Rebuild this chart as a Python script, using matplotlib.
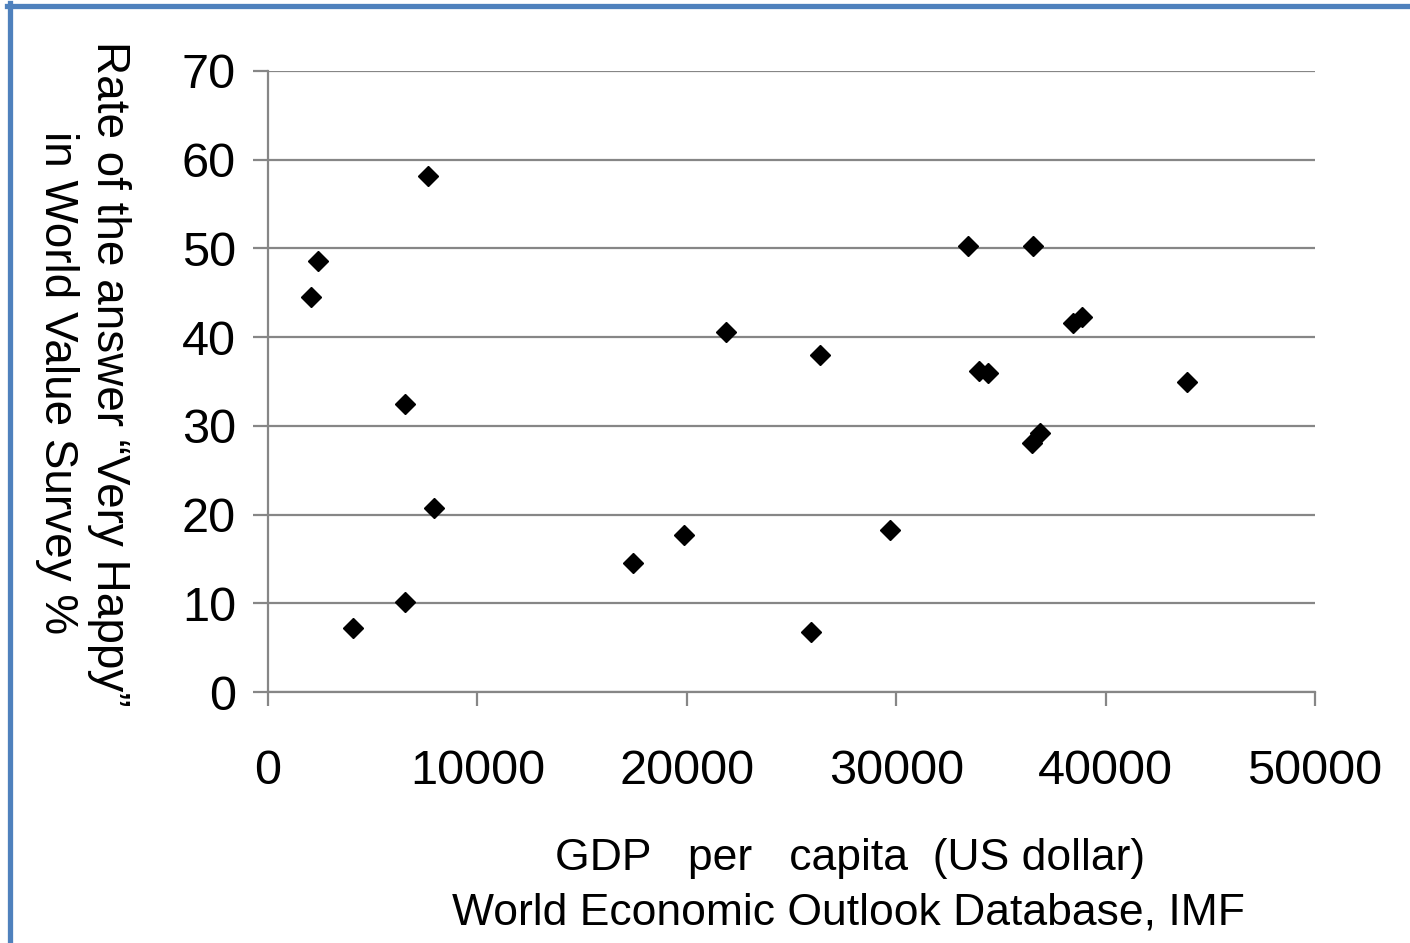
import matplotlib
matplotlib.use("Agg")
import matplotlib.pyplot as plt
from matplotlib.lines import Line2D

plt.rcParams['font.family'] = ['Liberation Sans', 'DejaVu Sans']

# GDP per capita (US dollar) vs. rate of "Very Happy" (%)
gdp = [2050, 2390, 4060, 6540, 6540, 7640, 7930, 17430, 19870, 21870,
       25930, 26360, 29700, 33430, 33950, 34380, 36530, 36490, 36870,
       38420, 38870, 43890]
happy = [44.5, 48.6, 7.2, 32.5, 10.1, 58.2, 20.7, 14.5, 17.7, 40.6,
         6.8, 38.0, 18.3, 50.3, 36.2, 36.0, 50.3, 28.1, 29.2,
         41.6, 42.3, 34.9]

xticks = [0, 10000, 20000, 30000, 40000, 50000]
yticks = [0, 10, 20, 30, 40, 50, 60, 70]

W, H = 1410, 943
fig = plt.figure(figsize=(W / 100, H / 100), dpi=100)
ax = fig.add_axes([268 / W, 1 - 692 / H, (1315 - 268) / W, (692 - 71) / H])

grey = '#868686'
ax.plot(gdp, happy, linestyle='none', marker='D', markersize=10.5,
        color='black', zorder=3, clip_on=False)

ax.set_xlim(0, 50000)
ax.set_ylim(0, 70)
ax.set_xticks(xticks)
ax.set_yticks(yticks)
ax.grid(axis='y', color=grey, linewidth=1.6)
ax.set_axisbelow(True)

for s in ['top', 'right']:
    ax.spines[s].set_visible(False)
for s in ['left', 'bottom']:
    ax.spines[s].set_color(grey)
    ax.spines[s].set_linewidth(1.6)

ax.tick_params(axis='y', length=11, width=1.6, color=grey, pad=12,
               labelsize=35)
ax.tick_params(axis='x', length=10, width=1.6, color=grey, pad=31,
               labelsize=35)

# y-axis title (two rotated lines, read top to bottom)
fig.text(97 / W, 1 - 374 / H, 'Rate of the answer \u201cVery Happy\u201d',
         rotation=-90, rotation_mode='anchor', ha='center', va='baseline',
         fontsize=33)
fig.text(45 / W, 1 - 383 / H, 'in World Value Survey %',
         rotation=-90, rotation_mode='anchor', ha='center', va='baseline',
         fontsize=33)

# x-axis title
fig.text(850 / W, 1 - 870 / H, 'GDP   per   capita  (US dollar)',
         ha='center', va='baseline', fontsize=32)
fig.text(848 / W, 1 - 924 / H, 'World Economic Outlook Database, IMF',
         ha='center', va='baseline', fontsize=32)

# blue frame (top and left edges)
blue = '#4F81BD'
fig.add_artist(Line2D([7 / W, 1], [1 - 5.5 / H, 1 - 5.5 / H],
                      transform=fig.transFigure, color=blue, linewidth=3.8))
fig.add_artist(Line2D([9.5 / W, 9.5 / W], [0, 1 - 3 / H],
                      transform=fig.transFigure, color=blue, linewidth=3.8))

fig.savefig('out.png', dpi=100)
